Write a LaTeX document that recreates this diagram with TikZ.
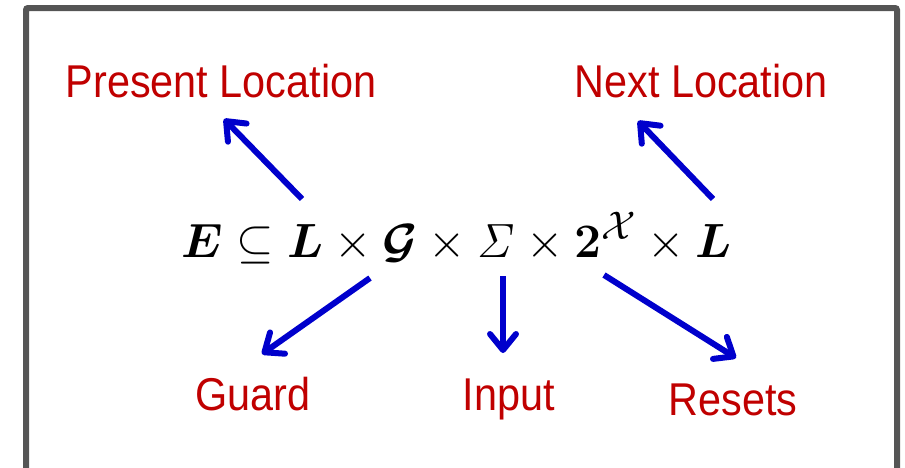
\documentclass[tikz,border=0pt]{standalone}
\usepackage[no-math]{fontspec}
\usepackage{amsmath}
\usepackage{bm}
\usepackage{graphicx}
\usepackage{tikz}
\usetikzlibrary{arrows.meta}
\newfontfamily\lblfont[FakeStretch=0.9]{Liberation Sans}
\definecolor{lblred}{HTML}{C00000}
\definecolor{arrowblue}{HTML}{0000CC}
\definecolor{framegray}{HTML}{555555}

\begin{document}
\begin{tikzpicture}[
    x=1pt, y=-1pt,
    lbl/.style={anchor=base, inner sep=0pt, text=lblred, font=\lblfont\fontsize{46}{50}\selectfont},
    arrow/.style={-{Straight Barb[round, length=16pt, width=26pt]}, line width=6pt, draw=arrowblue}
]
    \clip (0,0) rectangle (905,467);
    \useasboundingbox (0,0) rectangle (905,467);

    % Frame (open at the bottom)
    \draw [framegray, line width=6pt, rounded corners=2pt] (26,480) -- (26,8) -- (897,8) -- (897,480);

    % The edge relation
    \node [anchor=base, inner sep=0pt, font=\Huge] (eq) at (457,257)
        {\scalebox{1.93}{$\bm{E} \subseteq \bm{L} \times \bm{\mathcal{G}} \times \mathit{\Sigma} \times \mathbf{2}^{\mathcal{X}} \times \bm{L}$}};

    % Labels
    \node [lbl] (present) at (221,97) {Present Location};
    \node [lbl] (next) at (701,97) {Next Location};
    \node [lbl] (guard) at (253,410) {Guard};
    \node [lbl] (input) at (509,410) {Input};
    \node [lbl] (resets) at (733,415) {Resets};

    % Arrow ends
    \coordinate (presFrom) at (302,199);
    \coordinate (presTo) at (224,119);
    \coordinate (nextFrom) at (713,199);
    \coordinate (nextTo) at (638,121);
    \coordinate (guardFrom) at (370,278);
    \coordinate (guardTo) at (262,354);
    \coordinate (inputFrom) at (503,276);
    \coordinate (inputTo) at (503,353);
    \coordinate (resetsFrom) at (604,275);
    \coordinate (resetsTo) at (736,358);

    \draw [arrow] (presFrom) -- (presTo);
    \draw [arrow] (nextFrom) -- (nextTo);
    \draw [arrow] (guardFrom) -- (guardTo);
    \draw [arrow] (inputFrom) -- (inputTo);
    \draw [arrow] (resetsFrom) -- (resetsTo);

\end{tikzpicture}
\end{document}
